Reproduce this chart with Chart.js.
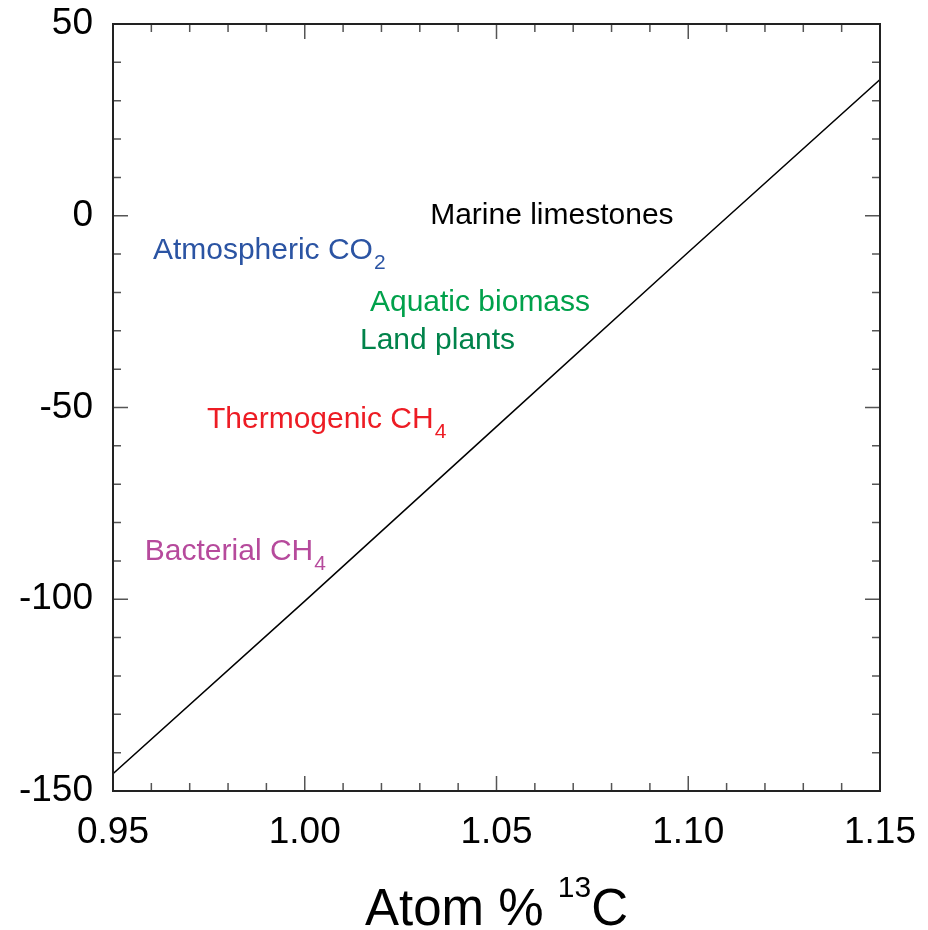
<!DOCTYPE html>
<html>
<head>
<meta charset="utf-8">
<script src="https://cdn.jsdelivr.net/npm/chart.js@4.4.0/dist/chart.umd.min.js"></script>
<style>
  html, body { margin: 0; padding: 0; background: #fff; }
</style>
</head>
<body>
<canvas id="iso-chart" width="928" height="930"></canvas>
<script>
// values
const atomPct = [0.95, 1.00, 1.05, 1.10, 1.15];
const delta13C = [-145.5, -100.5, -55, -9.5, 35.5];

const xTicks = [0.95, 1.00, 1.05, 1.10, 1.15];
const yTicks = [-150, -100, -50, 0, 50];

// text labels in the plot (anchor = left edge, middle of capitals)
const labelNames = ['Marine limestones', 'Atmospheric CO', 'Aquatic biomass', 'Land plants', 'Thermogenic CH', 'Bacterial CH'];
const labelSubs = ['', '2', '', '', '4', '4'];
const labelX = [1.0327, 0.9604, 1.0170, 1.0144, 0.9745, 0.9583];
const labelY = [0.5, -8.5, -22, -32, -52.5, -87];
const labelColors = ['#000000', '#2b54a3', '#00a14b', '#00834a', '#ed1c24', '#b64a9c'];

const FONT = 'Arial, "Liberation Sans", Helvetica, sans-serif';

const points = atomPct.map((v, i) => ({ x: v, y: delta13C[i] }));

// inward ticks on all four sides + frame
const frameTicks = {
  id: 'frameTicks',
  afterDraw(chart) {
    const { ctx, chartArea: a, scales: { x, y } } = chart;
    ctx.save();
    ctx.strokeStyle = '#555';
    ctx.lineWidth = 1.5;
    ctx.beginPath();
    for (let i = 0; i <= 20; i++) {
      const len = i % 5 === 0 ? 15 : 8;
      const px = x.getPixelForValue(0.95 + i * 0.01);
      ctx.moveTo(px, a.bottom);
      ctx.lineTo(px, a.bottom - len);
      ctx.moveTo(px, a.top);
      ctx.lineTo(px, a.top + len);
      const py = y.getPixelForValue(-150 + i * 10);
      ctx.moveTo(a.left, py);
      ctx.lineTo(a.left + len, py);
      ctx.moveTo(a.right, py);
      ctx.lineTo(a.right - len, py);
    }
    ctx.stroke();
    ctx.strokeStyle = '#222';
    ctx.lineWidth = 2;
    ctx.strokeRect(a.left, a.top, a.right - a.left, a.bottom - a.top);
    ctx.restore();
  }
};

// labels with subscripts, axis title with superscript
const textLabels = {
  id: 'textLabels',
  afterDraw(chart) {
    const { ctx, chartArea: a, scales: { x, y } } = chart;
    ctx.save();
    ctx.textBaseline = 'alphabetic';
    ctx.textAlign = 'left';
    for (let i = 0; i < labelNames.length; i++) {
      const px = x.getPixelForValue(labelX[i]);
      const base = y.getPixelForValue(labelY[i]) + 10.6;
      ctx.fillStyle = labelColors[i];
      ctx.font = '30px ' + FONT;
      ctx.fillText(labelNames[i], px, base);
      if (labelSubs[i]) {
        const w = ctx.measureText(labelNames[i]).width;
        ctx.font = '21px ' + FONT;
        ctx.fillText(labelSubs[i], px + w + 1, base + 10);
      }
    }

    // x axis title
    ctx.fillStyle = '#000';
    ctx.font = '51px ' + FONT;
    const p1 = 'Atom % ';
    const w1 = ctx.measureText(p1).width;
    const w3 = ctx.measureText('C').width;
    ctx.font = '30px ' + FONT;
    const w2 = ctx.measureText('13').width;
    let tx = (a.left + a.right) / 2 - (w1 + w2 + w3) / 2;
    const tb = 925;
    ctx.font = '51px ' + FONT;
    ctx.fillText(p1, tx, tb);
    tx += w1;
    ctx.font = '30px ' + FONT;
    ctx.fillText('13', tx, tb - 28);
    tx += w2;
    ctx.font = '51px ' + FONT;
    ctx.fillText('C', tx, tb);
    ctx.restore();
  }
};

const noOverhang = s => {
  s.paddingTop = 0;
  s.paddingBottom = 0;
  s.paddingLeft = 0;
  s.paddingRight = 0;
};

const initChart = () => {
  const ctx = document.getElementById('iso-chart').getContext('2d');
  new Chart(ctx, {
    type: 'scatter',
    data: {
      datasets: [{
        data: points,
        showLine: true,
        borderColor: '#000',
        borderWidth: 1.5,
        pointRadius: 0,
        tension: 0,
      }],
    },
    options: {
      responsive: false,
      animation: false,
      devicePixelRatio: 1,
      layout: { padding: { top: 24, right: 48, left: 0, bottom: 0 } },
      plugins: {
        legend: { display: false },
        tooltip: { enabled: false },
      },
      scales: {
        x: {
          type: 'linear',
          min: 0.95,
          max: 1.15,
          afterBuildTicks: s => { s.ticks = xTicks.map(v => ({ value: v })); },
          afterFit: s => { s.height = 139; noOverhang(s); },
          grid: { display: false, drawTicks: false },
          border: { display: false },
          ticks: {
            color: '#000',
            font: { family: FONT, size: 37 },
            padding: 20,
            maxRotation: 0,
            callback: v => Number(v).toFixed(2),
          },
        },
        y: {
          type: 'linear',
          min: -150,
          max: 50,
          afterBuildTicks: s => { s.ticks = yTicks.map(v => ({ value: v })); },
          afterFit: s => { s.width = 113; noOverhang(s); },
          grid: { display: false, drawTicks: false },
          border: { display: false },
          ticks: {
            color: '#000',
            font: { family: FONT, size: 37 },
            padding: 20,
            callback: v => String(v),
          },
        },
      },
    },
    plugins: [frameTicks, textLabels],
  });
};

initChart();
</script>
</body>
</html>
